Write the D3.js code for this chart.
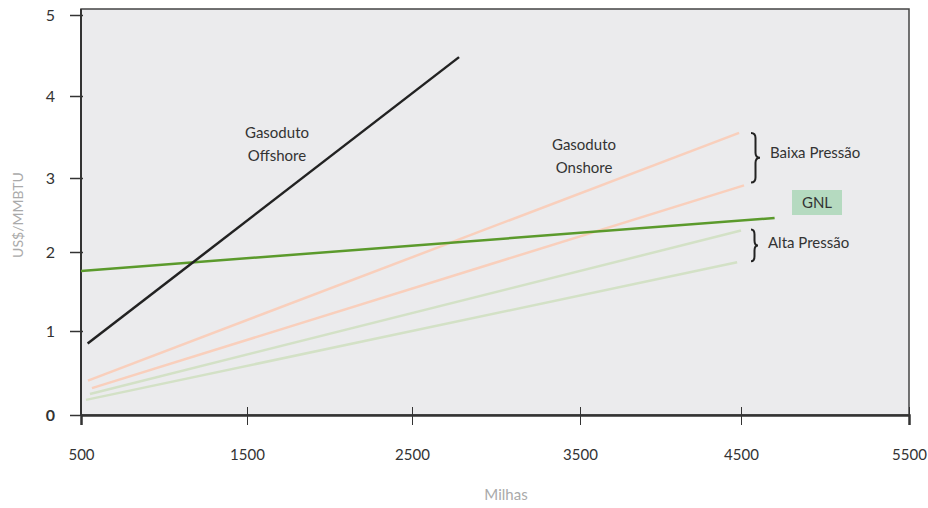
<!DOCTYPE html>
<html><head><meta charset="utf-8">
<script src="https://cdn.jsdelivr.net/npm/d3@7"></script>
<style>
body{margin:0;background:#fff}
text{font-family:Lato,'Open Sans',sans-serif}
</style>
</head><body>
<svg id="c" width="928" height="508"></svg>
<script>
// ---- data ----
const xTicks = [500, 1500, 2500, 3500, 4500, 5500];
const yTicks = [0, 1, 2, 3, 4, 5];
const offshoreX = [540, 2780];   const offshoreY = [0.85, 4.48];
const gnlX = [500, 4700];        const gnlY = [1.76, 2.46];
const baixaUpperX = [542, 4488]; const baixaUpperY = [0.41, 3.55];
const baixaLowerX = [566, 4518]; const baixaLowerY = [0.32, 2.90];
const altaUpperX = [554, 4500];  const altaUpperY = [0.25, 2.29];
const altaLowerX = [530, 4476];  const altaLowerY = [0.18, 1.87];
const xTitle = "Milhas";
const yTitle = "US$/MMBTU";

// ---- layout ----
const svg = d3.select("#c");
const x = d3.scaleLinear().domain(xTicks).range([81, 247, 412, 580, 741, 909]);
const y = d3.scaleLinear().domain(yTicks).range([415, 331, 252, 178, 96, 15]);
const pLeft = 81, pRight = 909, pTop = 9, pBottom = 415;

svg.append("rect").attr("x", pLeft).attr("y", pTop)
  .attr("width", pRight - pLeft).attr("height", pBottom - pTop)
  .attr("fill", "#ebebed").attr("stroke", "#444").attr("stroke-width", 1.5);

// y axis
const ya = svg.append("g").attr("transform", `translate(${pLeft + 2},0)`)
  .call(d3.axisLeft(y).tickValues(yTicks).tickSize(13).tickPadding(15).tickFormat(d3.format("d")));
ya.select(".domain").remove();
ya.selectAll("line").attr("stroke", "#333").attr("stroke-width", 1.5);
ya.selectAll("text").attr("fill", "#333").style("font-size", "16px");
ya.selectAll(".tick").filter(d => d === 0).select("text").attr("font-weight", "bold");

// x axis
const xa = svg.append("g").attr("transform", `translate(0,${pBottom})`)
  .call(d3.axisBottom(x).tickValues(xTicks).tickSize(10).tickPadding(24).tickFormat(d3.format("d")));
xa.select(".domain").attr("stroke", "#333").attr("stroke-width", 2.5);
xa.selectAll("line").attr("y1", -8).attr("stroke", "#333").attr("stroke-width", 1);
xa.selectAll("text").attr("fill", "#333").style("font-size", "15px");

svg.append("line").attr("x1", pLeft).attr("x2", pLeft).attr("y1", pTop).attr("y2", pBottom)
  .attr("stroke", "#333").attr("stroke-width", 2);

// titles
svg.append("text").attr("x", 506).attr("y", 500).attr("text-anchor", "middle")
  .attr("fill", "#aaa").style("font-size", "15px").text(xTitle);
svg.append("text").attr("transform", "translate(23,215) rotate(-90)").attr("text-anchor", "middle")
  .attr("fill", "#aaa").style("font-size", "14px").text(yTitle);

// lines
const lineGen = d3.line().x(d => x(d[0])).y(d => y(d[1]));
function draw(xs, ys, color, w) {
  svg.append("path").datum(d3.zip(xs, ys)).attr("d", lineGen)
    .attr("fill", "none").attr("stroke", color).attr("stroke-width", w);
}
draw(altaLowerX, altaLowerY, "#d3e1c6", 2.5);
draw(altaUpperX, altaUpperY, "#d3e1c6", 2.5);
draw(baixaLowerX, baixaLowerY, "#f9cfbc", 2.5);
draw(baixaUpperX, baixaUpperY, "#f9cfbc", 2.5);
draw(gnlX, gnlY, "#5b9a2c", 2.5);
draw(offshoreX, offshoreY, "#222", 2.5);

// braces
function brace(bx, y0, y1, w) {
  const ym = (y0 + y1) / 2, q = 5, h = w / 2;
  const p = `M${bx},${y0} Q${bx + h},${y0} ${bx + h},${y0 + q} L${bx + h},${ym - q} Q${bx + h},${ym} ${bx + w},${ym}` +
    ` Q${bx + h},${ym} ${bx + h},${ym + q} L${bx + h},${y1 - q} Q${bx + h},${y1} ${bx},${y1}`;
  svg.append("path").attr("d", p).attr("fill", "none").attr("stroke", "#222").attr("stroke-width", 2);
}
brace(x(4500) + 10, y(baixaUpperY[1]), y(baixaLowerY[1]) - 3, 9);
brace(x(4500) + 10, y(altaUpperY[1]) - 1, y(altaLowerY[1]) - 1, 7);

// GNL box (under its text)
svg.append("rect").attr("x", 792).attr("y", 190).attr("width", 50).attr("height", 25).attr("fill", "#b5dac0");

// annotations
const ann = svg.append("g").attr("fill", "#333").style("font-size", "15px");
function label(tx, ty, lines, anchor) {
  const t = ann.append("text").attr("x", tx).attr("y", ty).attr("text-anchor", anchor || "middle");
  lines.forEach((l, i) => t.append("tspan").attr("x", tx).attr("dy", i ? 23 : 0).text(l));
}
label(277, 138, ["Gasoduto", "Offshore"]);
label(584, 150, ["Gasoduto", "Onshore"]);
label(770, 158, ["Baixa Pressão"], "start");
label(768, 248, ["Alta Pressão"], "start");
label(817, 208, ["GNL"]);
</script>
</body></html>
